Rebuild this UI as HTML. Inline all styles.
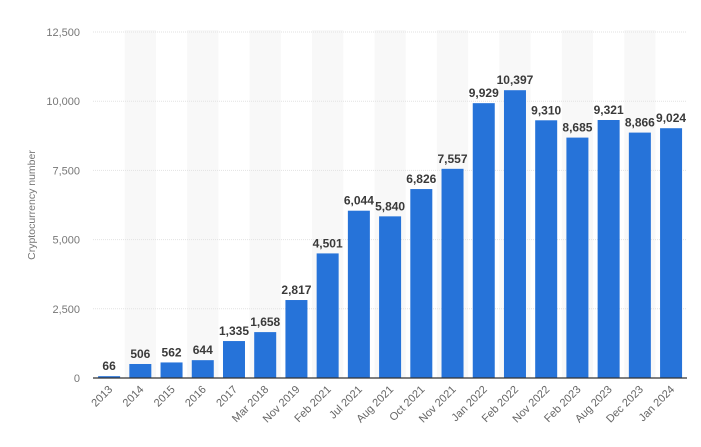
<!DOCTYPE html><html><head><style>body{margin:0;background:#fff}svg{display:block}text{font-family:"Liberation Sans",sans-serif}</style></head><body>
<svg width="701" height="447" viewBox="0 0 701 447" xmlns="http://www.w3.org/2000/svg">
<g id="stripes"></g><g id="grid"></g><g id="bars"></g>
<text transform="translate(35,205) rotate(-90)" text-anchor="middle" font-size="10.5" fill="#777">Cryptocurrency number</text>
<script>
const vals=[66,506,562,644,1335,1658,2817,4501,6044,5840,6826,7557,9929,10397,9310,8685,9321,8866,9024];
const labs=["2013","2014","2015","2016","2017","Mar 2018","Nov 2019","Feb 2021","Jul 2021","Aug 2021","Oct 2021","Nov 2021","Jan 2022","Feb 2022","Nov 2022","Feb 2023","Aug 2023","Dec 2023","Jan 2024"];
const ns="http://www.w3.org/2000/svg";
function el(t,a,txt,p){const e=document.createElementNS(ns,t);for(const k in a)e.setAttribute(k,a[k]);if(txt!=null)e.textContent=txt;document.getElementById(p).appendChild(e);return e;}
const x0=93.5,step=31.22,y0=378,ppu=346/12500;
for(let i=0;i<19;i++){if(i%2==1)el('rect',{x:x0+i*step,y:30,width:step,height:348,fill:'#f8f8f8'},null,'stripes');}
for(let v=2500;v<=12500;v+=2500){const y=y0-v*ppu;el('line',{x1:93,x2:687,y1:y,y2:y,stroke:'#e2e2e2','stroke-dasharray':'1,1'},null,'grid');el('text',{x:80,y:y+4,'text-anchor':'end','font-size':'11',fill:'#777'},v.toLocaleString('en-US'),'grid');}
el('text',{x:80,y:y0+4,'text-anchor':'end','font-size':'11',fill:'#777'},'0','grid');
vals.forEach((v,i)=>{const c=x0+step*(i+0.5);const h=v*ppu;
el('rect',{x:c-11,y:y0-h,width:22,height:h,fill:'#2673d9'},null,'bars');
el('text',{x:c,y:y0-h-6,'text-anchor':'middle','font-size':'12','font-weight':'bold',fill:'#3a3a3a'},v.toLocaleString('en-US'),'bars');
el('text',{transform:`translate(${c+4},${y0+12}) rotate(-45)`,'text-anchor':'end','font-size':'11',fill:'#666'},labs[i],'bars');});
el('line',{x1:93,x2:687,y1:y0,y2:y0,stroke:'#333','stroke-width':'1.3'},null,'bars');
</script>
</svg></body></html>
